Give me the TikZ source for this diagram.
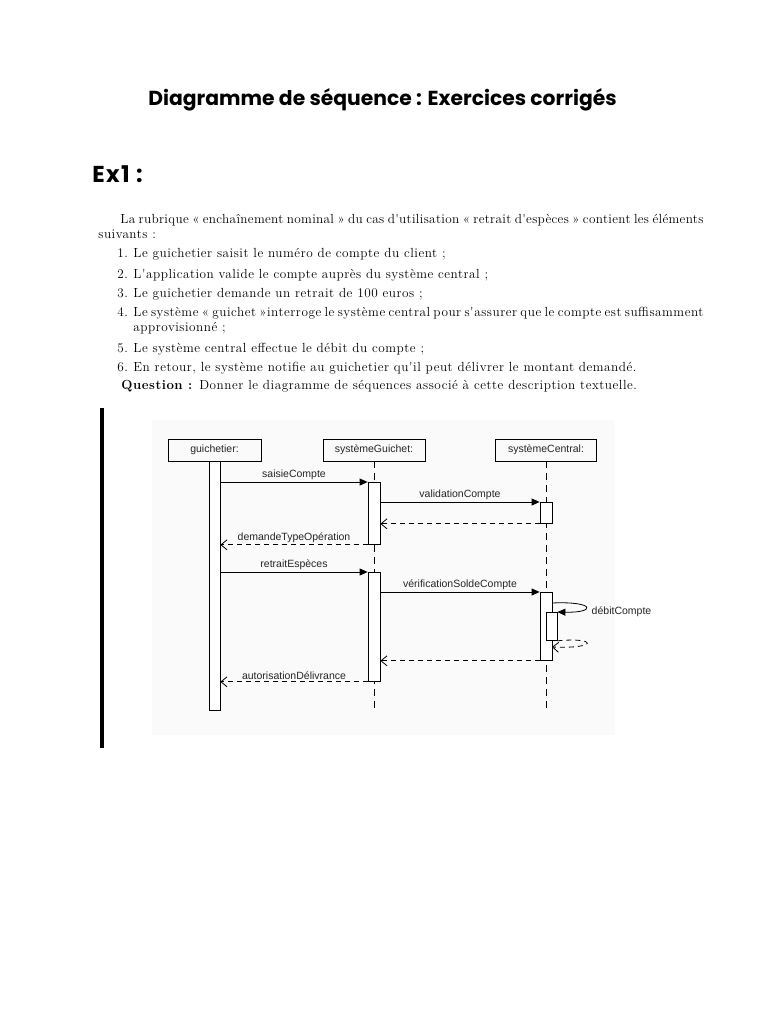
\documentclass[tikz,border=0pt]{standalone}
\usepackage{fontspec}
\setsansfont{Liberation Sans}
\newfontfamily\titlefont{Poppins}
\newfontfamily\bodyfont{Latin Modern Roman}[LetterSpace=4]
\usetikzlibrary{arrows.meta}

\begin{document}
\begin{tikzpicture}[
  x=1pt,y=-1pt,line width=0.8pt,
  txt/.style={anchor=base west,inner sep=0pt,font=\bodyfont\fontsize{13.2}{15}\selectfont},
  lbl/.style={font=\sffamily\fontsize{10.5}{12}\selectfont,text=black!85},
  head/.style={lbl,draw,minimum height=22pt,inner sep=0pt},
  act/.style={draw,fill=white,minimum width=12pt,inner sep=0pt,anchor=north},
  life/.style={dash pattern=on 7pt off 5pt},
  call/.style={-{Triangle[length=8pt,width=7pt]}},
  ret/.style={-{Straight Barb[length=6pt,width=10pt]},dash pattern=on 5pt off 4pt},
  msg/.style={lbl,above,inner sep=1.5pt}
]
\fill[white] (0,0) rectangle (768,1024);
\useasboundingbox (0,0) rectangle (768,1024);

\node[anchor=base west,inner sep=0pt,font=\titlefont\bfseries\fontsize{20.3}{22}\selectfont] (title) at (148,106) {Diagramme de séquence : Exercices corrigés};
\node[anchor=base west,inner sep=0pt,font=\titlefont\bfseries\fontsize{23}{25}\selectfont\addfontfeatures{LetterSpace=6}] (ex) at (92,183) {Ex1 :};

\node[txt] (l1) at (120,223) {\addfontfeatures{LetterSpace=2.5}\makebox[583pt][s]{La rubrique « enchaînement nominal » du cas d'utilisation « retrait d'espèces » contient les éléments}};
\node[txt] (l2) at (98,238) {suivants :};
\node[txt] (it1) at (117,258) {\makebox[16pt][l]{1.}Le guichetier saisit le numéro de compte du client ;};
\node[txt] (it2) at (117,278) {\makebox[16pt][l]{2.}L'application valide le compte auprès du système central ;};
\node[txt] (it3) at (117,297) {\makebox[16pt][l]{3.}Le guichetier demande un retrait de 100 euros ;};
\node[txt] (it4) at (117,316) {\makebox[16pt][l]{4.}\makebox[570pt][s]{Le système « guichet »interroge le système central pour s'assurer que le compte est suffisamment}};
\node[txt] (it4b) at (133,331) {approvisionné ;};
\node[txt] (it5) at (117,352) {\makebox[16pt][l]{5.}Le système central effectue le débit du compte ;};
\node[txt] (it6) at (117,371) {\makebox[16pt][l]{6.}En retour, le système notifie au guichetier qu'il peut délivrer le montant demandé.};
\node[txt] (quest) at (121,389) {\textbf{Question :} Donner le diagramme de séquences associé à cette description textuelle.};

\fill (100,408) rectangle (104,748);
\fill[black!2] (152,420) rectangle (615,735);

\node[head,minimum width=93pt] (gHead) at (214.5,450) {guichetier:};
\node[head,minimum width=102pt] (sgHead) at (374,450) {systèmeGuichet:};
\node[head,minimum width=101pt] (scHead) at (546,450) {systèmeCentral:};

\coordinate (lifeEnd) at (0,708);
\draw[life] (sgHead.south) -- (sgHead.south |- lifeEnd);
\draw[life] (scHead.south) -- (scHead.south |- lifeEnd);

\node[act,minimum width=11pt,minimum height=249pt] (gAct) at (gHead.south) {};
\node[act,minimum height=62pt] (sgAct1) at (374,482) {};
\node[act,minimum height=109pt] (sgAct2) at (374,572) {};
\node[act,minimum height=21pt] (scAct1) at (546,502) {};
\node[act,minimum height=68pt] (scAct2) at (546,592) {};
\node[act,minimum width=11pt,minimum height=28pt] (scAct3) at (551.5,612) {};

\draw[call] (gAct.east |- sgAct1.north) -- node[msg] {saisieCompte} (sgAct1.north west);
\draw[call] (sgAct1.east |- scAct1.north) -- node[msg] {validationCompte} (scAct1.north west);
\draw[ret] (scAct1.south west) -- (sgAct1.east |- scAct1.south);
\draw[ret] (sgAct1.south west) -- node[msg] {demandeTypeOpération} (gAct.east |- sgAct1.south);
\draw[call] (gAct.east |- sgAct2.north) -- node[msg] {retraitEspèces} (sgAct2.north west);
\draw[call] (sgAct2.east |- scAct2.north) -- node[msg] {vérificationSoldeCompte} (scAct2.north west);

\coordinate (selfOut) at (552,603);
\coordinate (selfBack) at (552,647);
\draw[call] (selfOut) .. controls (596,601) and (596,613) .. (scAct3.north east);
\node[lbl,anchor=west] (debit) at (588,612) {débitCompte};
\draw[ret] (scAct3.south east) .. controls (598,637) and (598,649) .. (selfBack);

\draw[ret] (scAct2.south west) -- (sgAct2.east |- scAct2.south);
\draw[ret] (sgAct2.south west) -- node[msg] {autorisationDélivrance} (gAct.east |- sgAct2.south);
\end{tikzpicture}
\end{document}
